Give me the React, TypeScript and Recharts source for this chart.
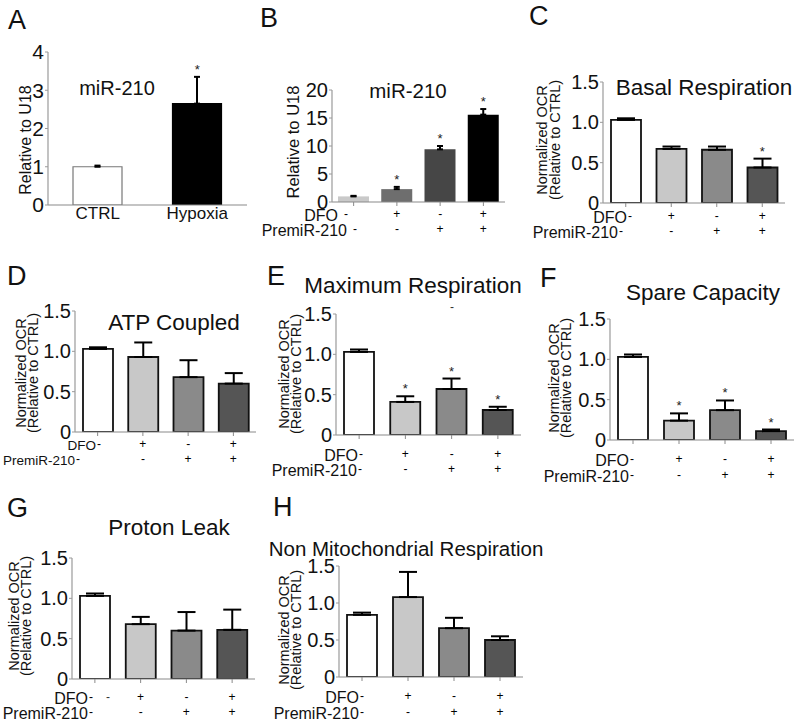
import React from 'react';
import { ComposedChart, Bar, ErrorBar, Scatter, XAxis, YAxis, Cell } from 'recharts';

const FONT = '"Liberation Sans", Arial, Helvetica, sans-serif';

/* ── Data ── */
const hypoxiaGroups = ['CTRL', 'Hypoxia'];
const hypoxiaMean = [1.0, 2.65];
const hypoxiaErr = [0.03, 0.7];
const hypoxiaSig = [false, true];
const hypoxiaTicks = [0, 1, 2, 3, 4];

const groups = ['CTRL', 'DFO', 'PremiR-210', 'DFO+PremiR-210'];
const dfoSigns = ['-', '+', '-', '+'];
const premirSigns = ['-', '-', '+', '+'];

const mirMean = [1.0, 2.3, 9.4, 15.6];
const mirErr = [0.1, 0.4, 0.6, 1.0];
const mirSig = [false, true, true, true];
const mirTicks = [0, 5, 10, 15, 20];

const ocrTicks = [0, 0.5, 1, 1.5];

const basalMean = [1.03, 0.67, 0.66, 0.44];
const basalErr = [0.02, 0.03, 0.04, 0.11];
const basalSig = [false, false, false, true];

const atpMean = [1.03, 0.93, 0.68, 0.6];
const atpErr = [0.02, 0.18, 0.21, 0.13];
const atpSig = [false, false, false, false];

const maxMean = [1.03, 0.41, 0.57, 0.31];
const maxErr = [0.03, 0.07, 0.13, 0.04];
const maxSig = [false, true, true, true];

const spareMean = [1.03, 0.24, 0.37, 0.11];
const spareErr = [0.03, 0.09, 0.12, 0.02];
const spareSig = [false, true, true, true];

const leakMean = [1.03, 0.68, 0.6, 0.61];
const leakErr = [0.03, 0.09, 0.23, 0.25];
const leakSig = [false, false, false, false];

const nonMitoMean = [0.84, 1.08, 0.66, 0.5];
const nonMitoErr = [0.03, 0.34, 0.14, 0.05];
const nonMitoSig = [false, false, false, false];

/* ── Layout ── */
const MT = 14, MR = 6, XH = 44;
const GRAYS = ['#ffffff', '#c8c8c8', '#8a8a8a', '#555555'];
const BLACKS = ['#111', '#111', '#111', '#111'];
const ocrFmt = (v: number) => (v === 0 ? '0' : v.toFixed(1));

const ocrBase = { kind: 'signs', names: groups, domain: [0, 1.5], ticks: ocrTicks, fmt: ocrFmt, tickFont: 20, barSize: 30, fills: GRAYS, strokes: BLACKS, strokeW: 1.8, cap: 9, gap: 3, rowFont: 16 };

const PANELS: any[] = [
  { kind: 'names', names: hypoxiaGroups, mean: hypoxiaMean, err: hypoxiaErr, sig: hypoxiaSig, left: 0, axisX: 48, y0: 205, yTop: 52, plotW: 199, domain: [0, 4], ticks: hypoxiaTicks, fmt: (v: number) => String(v), tickFont: 21, barSize: 49, fills: ['#ffffff', '#000000'], strokes: ['#777', '#000'], strokeW: 1.2, cap: 3, rows: [12] },
  { kind: 'signs', names: groups, mean: mirMean, err: mirErr, sig: mirSig, left: 255, axisX: 332, y0: 202, yTop: 90, plotW: 173, domain: [0, 20], ticks: mirTicks, fmt: (v: number) => String(v), tickFont: 20, barSize: 31, fills: ['#c9c9c9', '#6e6e6e', '#464646', '#000000'], strokes: ['#c9c9c9', '#6e6e6e', '#464646', '#000000'], strokeW: 0, cap: 3, rows: [13, 28], dfoDash: 346, preDash: 355, gap: 8, rowFont: 16 },
  { ...ocrBase, mean: basalMean, err: basalErr, sig: basalSig, left: 520, axisX: 603, y0: 203, yTop: 82, plotW: 182, rows: [14, 29], dfoDash: 630, preDash: 621 },
  { ...ocrBase, mean: atpMean, err: atpErr, sig: atpSig, left: 0, axisX: 75, y0: 432, yTop: 311, plotW: 181, rows: [13, 28], dfoDash: 99, preDash: 78, rowFont: 13.5 },
  { ...ocrBase, mean: maxMean, err: maxErr, sig: maxSig, left: 260, axisX: 336, y0: 435, yTop: 314, plotW: 185, rows: [20, 35], dfoDash: 361, preDash: 360 },
  { ...ocrBase, mean: spareMean, err: spareErr, sig: spareSig, left: 530, axisX: 610, y0: 440, yTop: 319, plotW: 184, rows: [20, 36], dfoDash: 632, preDash: 632 },
  { ...ocrBase, mean: leakMean, err: leakErr, sig: leakSig, left: 0, axisX: 72, y0: 679, yTop: 558, plotW: 183, rows: [19, 34], dfoDash: 91, preDash: 91 },
  { ...ocrBase, mean: nonMitoMean, err: nonMitoErr, sig: nonMitoSig, left: 260, axisX: 339, y0: 677, yTop: 566, plotW: 184, rows: [20, 36], dfoDash: 362, preDash: 362 },
];

/* ── Pieces ── */
const Star = (props: any) => {
  const { cx, cy, payload } = props;
  if (!payload?.sig || cx == null || cy == null) return <g />;
  return <text x={cx} y={cy - 3} textAnchor="middle" fontSize={13} fill="#222" fontFamily={FONT}>*</text>;
};

function GroupTick(props: any) {
  const { x, y, payload, p } = props;
  const i = payload?.index ?? props.index ?? 0;
  const y0 = y - 4;
  if (p.kind === 'names') {
    return <text x={x} y={y0 + p.rows[0]} textAnchor="middle" dominantBaseline="central" fontSize={17} fontFamily={FONT} fill="#111">{payload.value}</text>;
  }
  const r1 = y0 + p.rows[0];
  const r2 = y0 + p.rows[1];
  const x1 = i === 0 ? p.dfoDash - p.left : x;
  const x2 = i === 0 ? p.preDash - p.left : x;
  const sign = { textAnchor: 'middle' as const, dominantBaseline: 'central' as const, fontSize: 12, fontFamily: FONT, fill: '#000' };
  const lab = { textAnchor: 'end' as const, dominantBaseline: 'central' as const, fontSize: p.rowFont, fontFamily: FONT, fill: '#111' };
  return (
    <g>
      {i === 0 && <text x={x1 - p.gap} y={r1} {...lab}>DFO</text>}
      {i === 0 && <text x={x2 - p.gap} y={r2} {...lab}>PremiR-210</text>}
      <text x={x1} y={r1 - 1} {...sign}>{dfoSigns[i]}</text>
      <text x={x2} y={r2 - 1} {...sign}>{premirSigns[i]}</text>
    </g>
  );
}

function Panel({ p }: { p: any }) {
  const data = p.names.map((name: string, i: number) => ({
    name, mean: p.mean[i], err: [0, p.err[i]], top: p.mean[i] + p.err[i], sig: p.sig[i],
  }));
  const yw = p.axisX - p.left;
  const w = yw + p.plotW + MR;
  const h = MT + (p.y0 - p.yTop) + XH;
  return (
    <div style={{ position: 'absolute', left: p.left, top: p.yTop - MT }}>
      <ComposedChart width={w} height={h} data={data} margin={{ top: MT, right: MR, left: 0, bottom: 0 }}>
        <XAxis dataKey="name" height={XH} interval={0} tickSize={p.kind === 'names' ? 0 : 4} tickMargin={0}
          axisLine={{ stroke: '#8a8a8a', strokeWidth: 1.2 }} tickLine={{ stroke: '#8a8a8a' }}
          tick={(t: any) => <GroupTick {...t} p={p} />} />
        <YAxis width={yw} type="number" domain={p.domain} ticks={p.ticks} interval={0} allowDataOverflow
          tickFormatter={p.fmt} tickSize={3} tickMargin={1}
          axisLine={{ stroke: '#9a9a9a', strokeWidth: 1.2 }} tickLine={{ stroke: '#9a9a9a' }}
          tick={{ fontSize: p.tickFont, fill: '#111', fontFamily: FONT }} />
        <Bar dataKey="mean" barSize={p.barSize} isAnimationActive={false} strokeWidth={p.strokeW}>
          {data.map((_: any, i: number) => <Cell key={i} fill={p.fills[i]} stroke={p.strokes[i]} />)}
          <ErrorBar dataKey="err" direction="y" width={p.cap} stroke="#000" strokeWidth={2} isAnimationActive={false} />
        </Bar>
        <Scatter dataKey="top" isAnimationActive={false} shape={(s: any) => <Star {...s} />} />
      </ComposedChart>
    </div>
  );
}

/* ── Text around the panels ── */
const letters: [string, number, number][] = [
  ['A', 8, 29], ['B', 260, 27], ['C', 529, 25], ['D', 7, 285],
  ['E', 267, 285], ['F', 540, 287], ['G', 7, 517], ['H', 273, 516],
];
const titles: [string, number, number, number][] = [
  ['miR-210', 117, 88, 20], ['miR-210', 408, 90, 20.5], ['Basal Respiration', 704, 87, 22.5],
  ['ATP Coupled', 174, 322, 22.5], ['Maximum Respiration', 413, 285, 22.5], ['Spare Capacity', 703, 292, 22.5],
  ['Proton Leak', 169, 527, 22.5], ['Non Mitochondrial Respiration', 406, 548, 20.5],
];
const ocrLabels: [number, number, number][] = [
  [542, 555, 140], [21, 33, 373], [284, 296, 374], [554, 566, 378], [14, 26, 616], [284, 296, 630],
];

function Overlay() {
  return (
    <svg width={800} height={722} style={{ position: 'absolute', left: 0, top: 0, pointerEvents: 'none' }} fontFamily={FONT}>
      {letters.map(([t, x, y]) => <text key={t} x={x} y={y} fontSize={27} fill="#111">{t}</text>)}
      {titles.map(([t, x, y, f], i) => (
        <text key={i} x={x} y={y} fontSize={f} textAnchor="middle" dominantBaseline="central" fill="#111">{t}</text>
      ))}
      <text x={25} y={140} fontSize={16} textAnchor="middle" dominantBaseline="central" transform="rotate(-90 25 140)" fill="#111">Relative to U18</text>
      <text x={293} y={142} fontSize={16.5} textAnchor="middle" dominantBaseline="central" transform="rotate(-90 293 142)" fill="#111">Relative to U18</text>
      {ocrLabels.map(([x1, x2, y], i) => (
        <g key={i}>
          <text x={x1} y={y} fontSize={14.5} textAnchor="middle" dominantBaseline="central" transform={`rotate(-90 ${x1} ${y})`} fill="#111">Normalized OCR</text>
          <text x={x2} y={y} fontSize={14.5} textAnchor="middle" dominantBaseline="central" transform={`rotate(-90 ${x2} ${y})`} fill="#111">(Relative to CTRL)</text>
        </g>
      ))}
      <text x={452} y={307} fontSize={12} textAnchor="middle" dominantBaseline="central" fill="#333">-</text>
      <text x={108} y={697} fontSize={12} textAnchor="middle" dominantBaseline="central" fill="#333">-</text>
    </svg>
  );
}

export default function App() {
  return (
    <div style={{ position: 'relative', width: 800, height: 722, background: '#fff', overflow: 'hidden' }}>
      <style>{'body{margin:0}'}</style>
      {PANELS.map((p, i) => <Panel key={i} p={p} />)}
      <Overlay />
    </div>
  );
}
